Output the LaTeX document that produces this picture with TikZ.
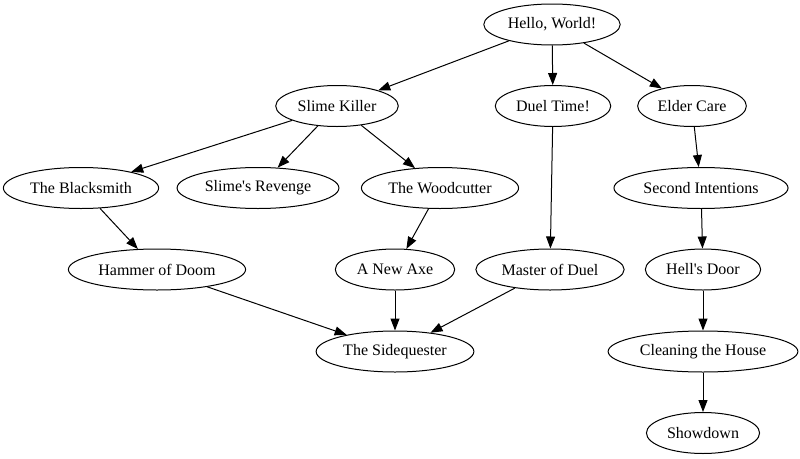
\documentclass[tikz,border=0pt]{standalone}
\usepackage{fontspec}
\setmainfont{Liberation Serif}
\usepackage{tikz}
\usetikzlibrary{arrows.meta, shapes.geometric}

\begin{document}
\begin{tikzpicture}[
    x=1pt, y=-1pt,
    quest/.style={draw, ellipse, line width=1pt, minimum height=41pt, inner xsep=4pt, inner ysep=0pt,
      font=\fontsize{16}{19}\selectfont},
    arrow/.style={-{Triangle[length=12pt, width=9pt]}, line width=1pt}
]
\useasboundingbox (0,0) rectangle (800,458);

\node[quest] (hello) at (552,24.5) {Hello, World!};
\node[quest] (slime) at (337,106) {Slime Killer};
\node[quest] (duel) at (553,106) {Duel Time!};
\node[quest] (elder) at (692,106) {Elder Care};
\node[quest] (smith) at (81,188) {The Blacksmith};
\node[quest] (revenge) at (258,188) {Slime\textquotesingle s Revenge};
\node[quest] (wood) at (440,188) {The Woodcutter};
\node[quest] (second) at (701,188) {Second Intentions};
\node[quest] (hammer) at (157,269.5) {Hammer of Doom};
\node[quest] (axe) at (395,269.5) {A New Axe};
\node[quest] (master) at (550,269.5) {Master of Duel};
\node[quest] (hell) at (703,269.5) {Hell\textquotesingle s Door};
\node[quest] (side) at (395,351.5) {The Sidequester};
\node[quest] (house) at (703,351.5) {Cleaning the House};
\node[quest] (showdown) at (703,433) {Showdown};

\draw[arrow] (hello) -- (slime);
\draw[arrow] (hello) -- (duel);
\draw[arrow] (hello) -- (elder);
\draw[arrow] (slime) -- (smith);
\draw[arrow] (slime) -- (revenge);
\draw[arrow] (slime) -- (wood);
\draw[arrow] (duel) -- (master);
\draw[arrow] (elder) -- (second);
\draw[arrow] (smith) -- (hammer);
\draw[arrow] (wood) -- (axe);
\draw[arrow] (second) -- (hell);
\draw[arrow] (hammer) -- (side);
\draw[arrow] (axe) -- (side);
\draw[arrow] (master) -- (side);
\draw[arrow] (hell) -- (house);
\draw[arrow] (house) -- (showdown);
\end{tikzpicture}
\end{document}
